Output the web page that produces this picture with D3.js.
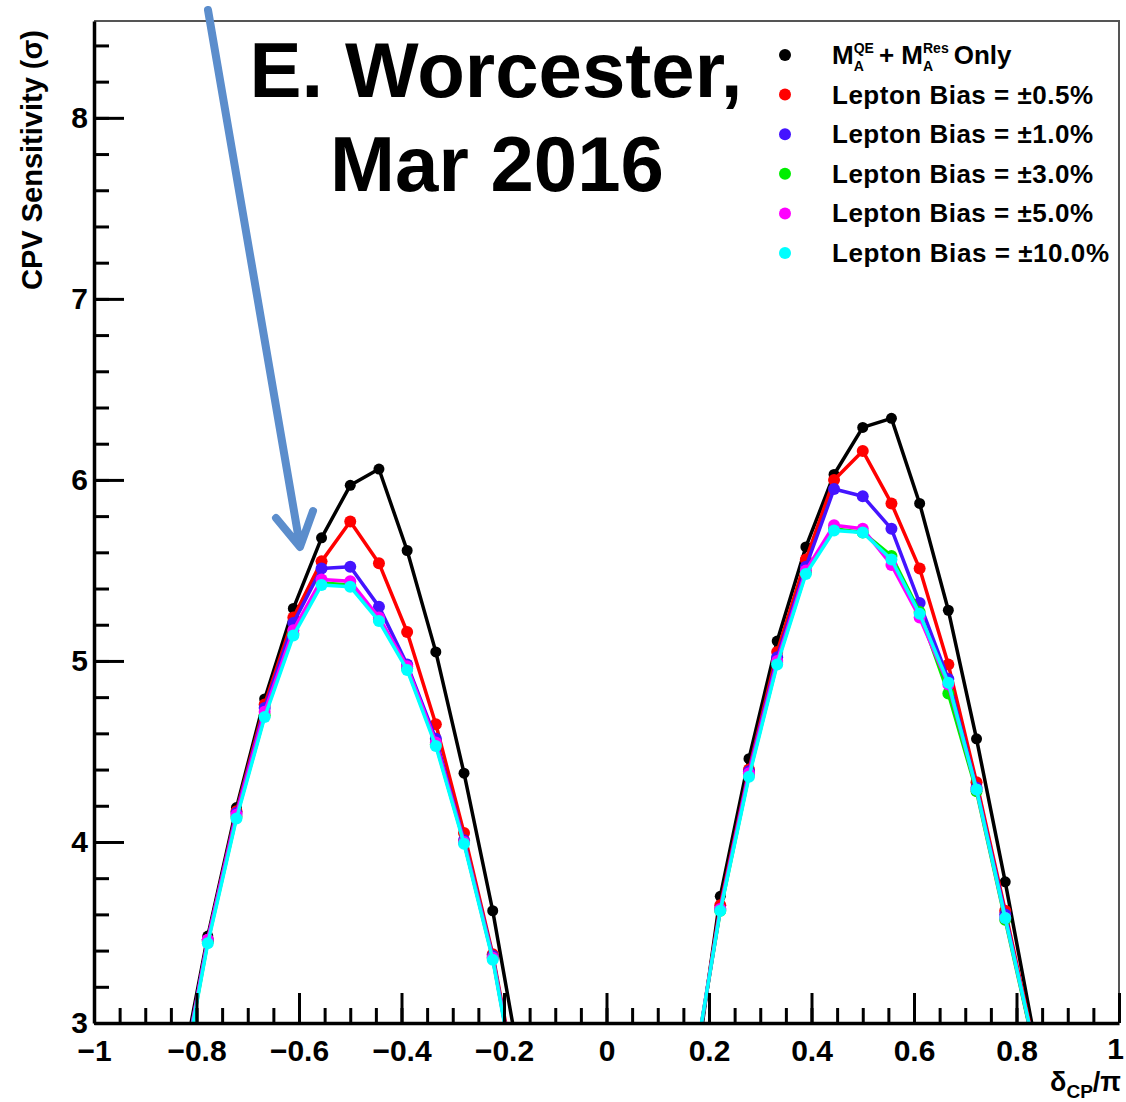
<!DOCTYPE html>
<html>
<head>
<meta charset="utf-8">
<script src="https://cdn.jsdelivr.net/npm/d3@7"></script>
<style>
body { margin: 0; background: #fff; }
text { font-family: "Liberation Sans", Arial, Helvetica, sans-serif; font-weight: bold; }
</style>
</head>
<body>
<div id="chart"></div>
<script>
var svgWidth = 1126;
var svgHeight = 1102;

// frame edges in pixels
var frame = {left: 94, right: 1119, top: 21, bottom: 1023};

// delta_CP / pi sample points (10 degree steps, only the part near the peaks)
var deltaCP = [-0.833, -0.778, -0.722, -0.667, -0.611, -0.556, -0.5, -0.444, -0.389, -0.333, -0.278, -0.222, -0.167,
  0.167, 0.222, 0.278, 0.333, 0.389, 0.444, 0.5, 0.556, 0.611, 0.667, 0.722, 0.778, 0.833];

var maOnly = [2.67, 3.48, 4.19, 4.79, 5.29, 5.68, 5.97, 6.06, 5.61, 5.05, 4.38, 3.62, 2.74,
  2.59, 3.70, 4.46, 5.11, 5.63, 6.03, 6.29, 6.34, 5.87, 5.28, 4.57, 3.78, 2.95];
var bias05 = [2.62, 3.46, 4.17, 4.76, 5.24, 5.55, 5.77, 5.54, 5.16, 4.65, 4.05, 3.38, 2.55,
  2.66, 3.65, 4.40, 5.05, 5.56, 6.00, 6.16, 5.87, 5.51, 4.98, 4.33, 3.62, 2.90];
var bias10 = [2.62, 3.46, 4.16, 4.74, 5.21, 5.51, 5.52, 5.30, 4.98, 4.57, 4.01, 3.37, 2.52,
  2.67, 3.63, 4.39, 5.02, 5.52, 5.95, 5.91, 5.73, 5.32, 4.90, 4.30, 3.60, 2.88];
var bias30 = [2.60, 3.45, 4.14, 4.70, 5.15, 5.43, 5.42, 5.23, 4.96, 4.54, 4.00, 3.36, 2.51,
  2.68, 3.62, 4.37, 4.99, 5.49, 5.73, 5.71, 5.58, 5.27, 4.82, 4.28, 3.57, 2.88];
var bias50 = [2.61, 3.46, 4.15, 4.72, 5.17, 5.45, 5.44, 5.24, 4.97, 4.55, 4.00, 3.36, 2.51,
  2.68, 3.63, 4.38, 5.00, 5.50, 5.75, 5.73, 5.53, 5.24, 4.87, 4.29, 3.58, 2.89];
var bias100 = [2.60, 3.44, 4.13, 4.69, 5.14, 5.42, 5.41, 5.22, 4.95, 4.53, 3.99, 3.35, 2.50,
  2.69, 3.62, 4.36, 4.98, 5.48, 5.72, 5.71, 5.56, 5.26, 4.88, 4.29, 3.58, 2.89];

var seriesNames = ["MA", "Lepton Bias = \u00b10.5%", "Lepton Bias = \u00b11.0%", "Lepton Bias = \u00b13.0%",
  "Lepton Bias = \u00b15.0%", "Lepton Bias = \u00b110.0%"];
var seriesValues = [maOnly, bias05, bias10, bias30, bias50, bias100];
var seriesColors = ["#000000", "#ff0000", "#4414ff", "#00ee00", "#ff00ff", "#00ffff"];

var svg = d3.select("#chart")
  .append("svg")
  .attr("width", svgWidth)
  .attr("height", svgHeight);

var x = d3.scaleLinear().domain([-1, 1]).range([frame.left, frame.right]);
var y = d3.scaleLinear().domain([3, 8.535]).range([frame.bottom, frame.top]);

svg.append("defs").append("clipPath").attr("id", "frameClip")
  .append("rect")
  .attr("x", frame.left).attr("y", frame.top)
  .attr("width", frame.right - frame.left).attr("height", frame.bottom - frame.top);

// top and right frame
svg.append("path")
  .attr("d", `M${frame.left},${frame.top}H${frame.right}V${frame.bottom}`)
  .attr("fill", "none")
  .attr("stroke", "#555")
  .attr("stroke-width", 2);

// curves
var plot = svg.append("g").attr("clip-path", "url(#frameClip)");
var line = d3.line().x((d, i) => x(deltaCP[i])).y(d => y(d));

seriesValues.forEach(function(vals, k) {
  plot.append("path")
    .attr("d", line(vals))
    .attr("fill", "none")
    .attr("stroke", seriesColors[k])
    .attr("stroke-width", 3.5)
    .attr("stroke-linejoin", "round");
  plot.selectAll(null).data(vals).enter()
    .append("circle")
    .attr("cx", (d, i) => x(deltaCP[i]))
    .attr("cy", d => y(d))
    .attr("r", k == 0 ? 5.5 : 6)
    .attr("fill", seriesColors[k]);
});

// axes
var fmt = d3.format("~g");
var xAxis = svg.append("g")
  .attr("transform", `translate(0,${frame.bottom})`)
  .call(d3.axisBottom(x).tickValues(x.ticks(40)).tickSize(-15).tickSizeOuter(0).tickFormat(""));
xAxis.selectAll("line").attr("stroke-width", 3);
xAxis.select(".domain").remove();

var xAxisMajor = svg.append("g")
  .attr("transform", `translate(0,${frame.bottom})`)
  .call(d3.axisBottom(x).ticks(10).tickSize(-30).tickSizeOuter(0).tickPadding(17).tickFormat(fmt));
xAxisMajor.select(".domain").attr("stroke-width", 3.5);
xAxisMajor.selectAll("line").attr("stroke-width", 3);
xAxisMajor.selectAll("text").attr("font-size", 30).attr("fill", "#000");
xAxisMajor.selectAll("text").filter(d => d == 1).attr("dx", -4).attr("y", 15);

var yAxis = svg.append("g")
  .attr("transform", `translate(${frame.left},0)`)
  .call(d3.axisLeft(y).tickValues(y.ticks(25)).tickSize(-15).tickSizeOuter(0).tickFormat(""));
yAxis.selectAll("line").attr("stroke-width", 3);
yAxis.select(".domain").remove();

var yAxisMajor = svg.append("g")
  .attr("transform", `translate(${frame.left},0)`)
  .call(d3.axisLeft(y).ticks(5).tickSize(-30).tickSizeOuter(0).tickPadding(6).tickFormat(fmt));
yAxisMajor.select(".domain").attr("stroke-width", 3.5);
yAxisMajor.selectAll("line").attr("stroke-width", 3);
yAxisMajor.selectAll("text").attr("font-size", 30).attr("fill", "#000");

// axis titles
svg.append("text")
  .attr("transform", "translate(42,30) rotate(-90)")
  .attr("text-anchor", "end")
  .attr("font-size", 29)
  .text("CPV Sensitivity (\u03c3)");

var xTitle = svg.append("text")
  .attr("x", 1121).attr("y", 1091)
  .attr("text-anchor", "end")
  .attr("font-size", 27)
  .attr("font-weight", "normal");
xTitle.append("tspan").text("\u03b4");
xTitle.append("tspan").attr("font-size", 19).attr("font-weight", "bold").attr("dy", 7).text("CP");
xTitle.append("tspan").attr("dy", -7).text("/\u03c0");

// legend
var legY0 = 55, legStep = 39.6;
seriesNames.forEach(function(name, k) {
  var ly = legY0 + k * legStep;
  svg.append("circle")
    .attr("cx", 785).attr("cy", ly).attr("r", 6)
    .attr("fill", seriesColors[k]);
  if (k > 0) {
    svg.append("text")
      .attr("x", 832).attr("y", ly + 9)
      .attr("font-size", 26)
      .attr("textLength", name.length >= 20 ? 277 : 261)
      .text(name);
  }
});

// first legend entry: M_A^QE + M_A^Res Only
var cx = 832, base = legY0 + 9;
function piece(str, size, dy) {
  var t = svg.append("text").attr("x", cx).attr("y", base + dy).attr("font-size", size).text(str);
  return t.node().getComputedTextLength();
}
var w = piece("M", 26, 0);
cx += w;
var wa = piece("QE", 14, -11);
piece("A", 14, 7);
cx += wa + 5;
w = piece("+ M", 26, 0);
cx += w;
wa = piece("Res", 14, -11);
piece("A", 14, 7);
cx += wa + 5;
piece("Only", 26, 0);

// annotation
svg.append("text")
  .attr("x", 496).attr("y", 97)
  .attr("text-anchor", "middle")
  .attr("font-size", 78)
  .text("E. Worcester,");
svg.append("text")
  .attr("x", 497).attr("y", 191)
  .attr("text-anchor", "middle")
  .attr("font-size", 78)
  .text("Mar 2016");

// blue arrow
svg.append("path")
  .attr("d", "M208,10L300,546M276,518L300,547L313,511")
  .attr("fill", "none")
  .attr("stroke", "#5b8dcc")
  .attr("stroke-width", 8)
  .attr("stroke-linecap", "round")
  .attr("stroke-linejoin", "round");
</script>
</body>
</html>
